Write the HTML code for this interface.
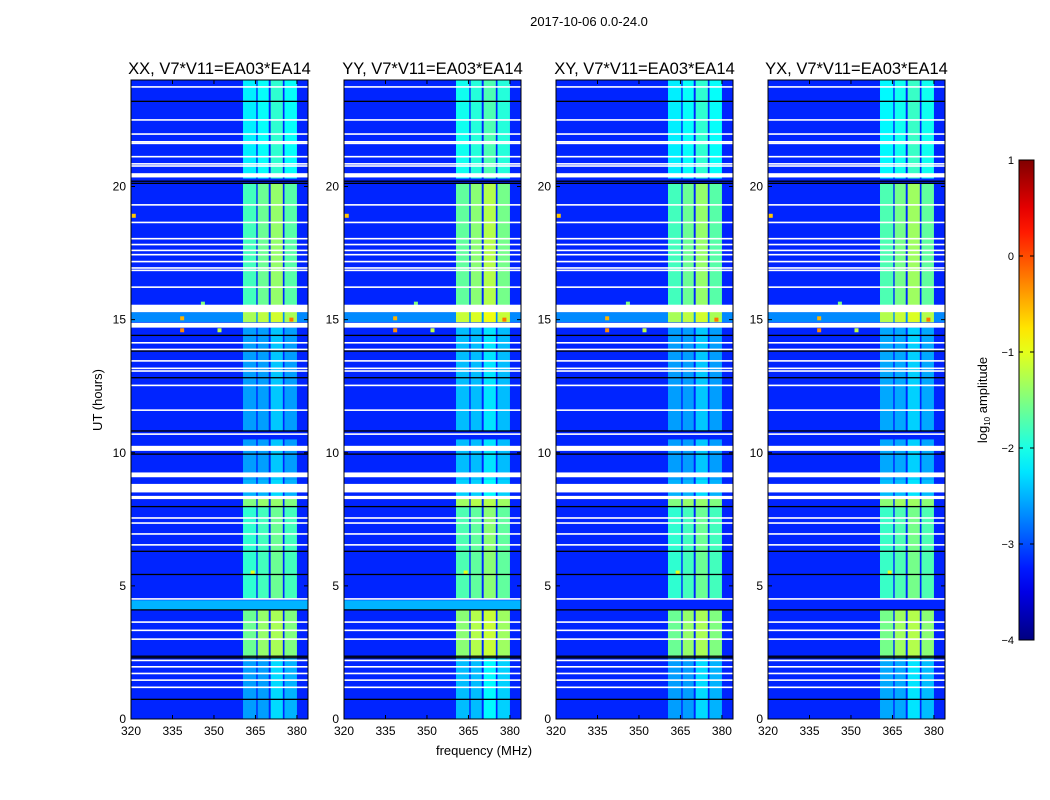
<!DOCTYPE html>
<html><head><meta charset="utf-8">
<style>body{margin:0;background:#fff}svg{display:block;font-family:"Liberation Sans",sans-serif}</style>
</head><body>
<svg id="fig" width="1050" height="800" xmlns="http://www.w3.org/2000/svg">
<text x="589" y="26" font-size="13" text-anchor="middle">2017-10-06 0.0-24.0</text>
<text transform="translate(102,400) rotate(-90)" font-size="13" text-anchor="middle">UT (hours)</text>
<text x="484" y="755" font-size="13" text-anchor="middle">frequency (MHz)</text>
<g id="panels"></g>
<g id="cbar"></g>
</svg>
<script>
const panelTitles=["XX, V7*V11=EA03*EA14","YY, V7*V11=EA03*EA14","XY, V7*V11=EA03*EA14","YX, V7*V11=EA03*EA14"];
const panelOffset=[0,0.15,0.0,0.05];
const panelLightRow=[true,true,false,false];
const bgLevel=-3.2;
const bandCols=[[360.5,365.3],[365.8,369.8],[370.5,374.9],[375.5,380.0]];
const segStart=[0,2.3,4.5,8.0,8.3,9.0,10.8,14.9,15.3,15.5,20.3];
const segEnd=[2.3,4.1,8.0,8.3,9.0,10.5,14.7,15.3,15.5,20.1,24.0];
const segLevel=[[-2.6,-2.6,-2.3,-2.5],[-1.6,-1.4,-1.3,-1.5],[-1.9,-1.8,-1.6,-1.8],[-1.5,-1.4,-1.4,-1.5],[-2.5,-2.5,-2.3,-2.5],[-2.6,-2.6,-2.4,-2.6],[-2.6,-2.6,-2.4,-2.6],[-1.3,-1.2,-1.1,-1.3],[-1.6,-1.5,-1.4,-1.5],[-1.8,-1.6,-1.4,-1.7],[-2.2,-2.1,-1.9,-2.1]];
const whiteRows=[23.74,22.5,21.97,21.68,21.62,21.12,20.85,20.77,19.31,18.65,18.04,17.82,17.6,17.44,17.18,16.94,16.85,16.22,14.13,13.88,13.45,13.17,13.07,12.53,11.6,10.7,8.35,7.55,7.36,6.95,6.54,4.51,3.64,3.33,3.0,2.2,1.96,1.71,1.46,1.19];
const whiteBandStart=[20.34,15.28,14.7,10.07,9.08,8.51,8.26];
const whiteBandEnd=[20.5,15.56,14.88,10.26,9.26,8.83,8.36];
const blackRows=[23.2,20.2,20.12,14.41,13.82,12.82,10.82,9.95,7.98,6.30,5.43,4.1,2.36,2.3,0.74];
const ptFreq=[338.5,338.5,352,378,321,364,346];
const ptTime=[14.6,15.05,14.6,15.0,18.9,5.5,15.6];
const ptLevel=[-0.3,-0.5,-1.2,-0.2,-0.6,-1.0,-1.5];
const yTicks=[0,5,10,15,20];
const xTicks=[320,335,350,365,380];
const cbTicks=[1,0,-1,-2,-3,-4];

const NS="http://www.w3.org/2000/svg";
function jet(v){let t=(v+4)/5;t=Math.max(0,Math.min(1,t));
 const f=x=>Math.max(0,Math.min(1,x));
 const r=f(1.5-Math.abs(4*t-3)),g=f(1.5-Math.abs(4*t-2)),b=f(1.5-Math.abs(4*t-1));
 return `rgb(${Math.round(r*255)},${Math.round(g*255)},${Math.round(b*255)})`;}
function mk(tag,attrs,parent){const e=document.createElementNS(NS,tag);for(const k in attrs)e.setAttribute(k,attrs[k]);parent.appendChild(e);return e;}
const panelX=[131,344,556,768],PW=177,PT=80,PB=719;
const fMin=320,fMax=384,tMax=24;
const panels=document.getElementById('panels');
panelX.forEach((x0,p)=>{
 const xs=f=>x0+(f-fMin)/(fMax-fMin)*PW;
 const ys=t=>PB-t/tMax*(PB-PT);
 const g=mk('g',{},panels);
 
 
 const bg=mk('rect',{x:x0,y:PT,width:PW,height:PB-PT,fill:jet(bgLevel)},g);
 
 
 if(panelLightRow[p]){const r=mk('rect',{x:x0,y:ys(4.46),width:PW,height:ys(4.11)-ys(4.46),fill:jet(-2.5)},g);
  
  }
 const r15=mk('rect',{x:x0,y:ys(15.28),width:PW,height:ys(14.9)-ys(15.28),fill:jet(-2.7)},g);
 
 
 segStart.forEach((s,i)=>{bandCols.forEach((c,j)=>{
  const r=mk('rect',{x:xs(c[0]),y:ys(segEnd[i]),width:xs(c[1])-xs(c[0]),height:ys(s)-ys(segEnd[i]),fill:jet(segLevel[i][j]+panelOffset[p])},g);
  
  
 });});
 ptFreq.forEach((f,i)=>{const c=mk('rect',{x:xs(f)-2,y:ys(ptTime[i])-2,width:4,height:4,fill:jet(ptLevel[i])},g);
  
  });
 whiteBandStart.forEach((s,i)=>{const r=mk('rect',{x:x0,y:ys(whiteBandEnd[i]),width:PW,height:ys(s)-ys(whiteBandEnd[i]),fill:'#fff'},g);
  
  });
 whiteRows.forEach(t=>{const r=mk('rect',{x:x0,y:ys(t)-0.8,width:PW,height:1.6,fill:'#fff'},g);
  
  });
 blackRows.forEach(t=>{const r=mk('rect',{x:x0,y:ys(t)-0.6,width:PW,height:1.3,fill:'#000'},g);
  
  });
 const fr=mk('rect',{x:x0,y:PT,width:PW,height:PB-PT,fill:'none',stroke:'#000','stroke-width':1},g);
 
 
 const tt=mk('text',{x:x0+PW/2,y:74,'font-size':16.5,'text-anchor':'middle'},g);tt.textContent=panelTitles[p];
 
 
 yTicks.forEach(v=>{const y=ys(v);
  mk('line',{x1:x0,x2:x0+4,y1:y,y2:y,stroke:'#000'},g);mk('line',{x1:x0+PW-4,x2:x0+PW,y1:y,y2:y,stroke:'#000'},g);
  const t=mk('text',{x:x0-5,y:y+4,'font-size':12,'text-anchor':'end'},g);t.textContent=v;
  
  });
 xTicks.forEach(v=>{const x=xs(v);
  mk('line',{x1:x,x2:x,y1:PB,y2:PB-4,stroke:'#000'},g);mk('line',{x1:x,x2:x,y1:PT,y2:PT+4,stroke:'#000'},g);
  const t=mk('text',{x:x,y:PB+16,'font-size':12,'text-anchor':'middle'},g);t.textContent=v;
  
  });
});
// colorbar
const cb=document.getElementById('cbar');


const CX=1019,CW=15,CT=160,CB=640;
const cy=v=>CB-(v+4)/5*(CB-CT);
const defs=mk('defs',{},cb);const lg=mk('linearGradient',{id:'jg',x1:0,y1:1,x2:0,y2:0},defs);
for(let i=0;i<=20;i++){mk('stop',{offset:i/20,'stop-color':jet(-4+5*i/20)},lg);}
mk('rect',{x:CX,y:CT,width:CW,height:CB-CT,fill:'url(#jg)',stroke:'#000'},cb);
cbTicks.forEach(v=>{const y=cy(v);
 mk('line',{x1:CX,x2:CX+4,y1:y,y2:y,stroke:'#000'},cb);mk('line',{x1:CX+CW-4,x2:CX+CW,y1:y,y2:y,stroke:'#000'},cb);
 const t=mk('text',{x:CX-5,y:y+4,'font-size':11,'text-anchor':'end'},cb);t.textContent=v<0?'\u2212'+(-v):v;
 
 });
const cl=mk('text',{transform:'translate(987,400) rotate(-90)','font-size':13,'text-anchor':'middle'},cb);
cl.innerHTML='log<tspan font-size="8" dy="3">10</tspan><tspan dy="-3"> amplitude</tspan>';


</script>
</body></html>
